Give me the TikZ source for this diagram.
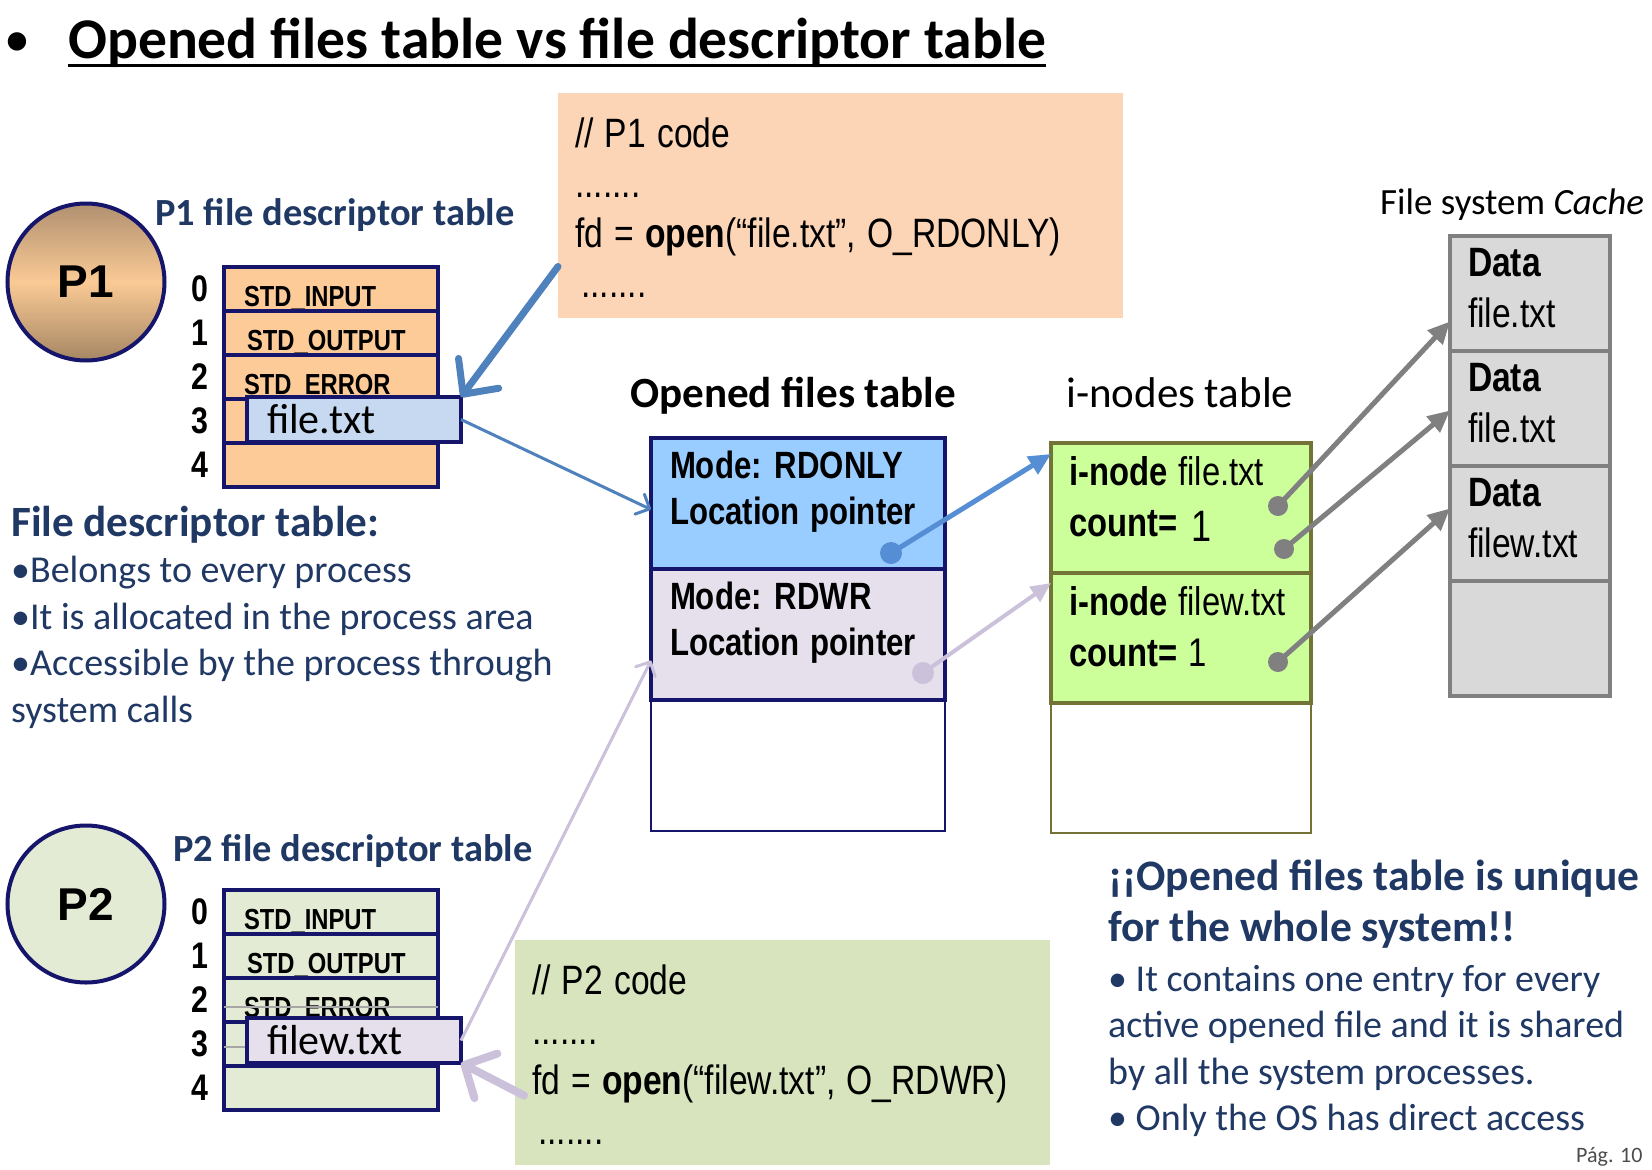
\documentclass[tikz,border=0pt]{standalone}
\usepackage{fontspec}
\setmainfont{Carlito}
\newfontfamily\narrowfont[FakeStretch=0.82, WordSpace=1.2]{Liberation Sans}
\newfontfamily\arialfont{Liberation Sans}
\usepackage{tikz}
\usetikzlibrary{positioning, arrows.meta}

\definecolor{navy}{HTML}{15156B}
\definecolor{descblue}{HTML}{203864}
\definecolor{p1fill}{HTML}{FCCB98}
\definecolor{p1top}{HTML}{B09070}
\definecolor{p1mid}{HTML}{FACA95}
\definecolor{p1bot}{HTML}{A58663}
\definecolor{p2fill}{HTML}{E3EBD4}
\definecolor{p1codefill}{HTML}{FBD5B5}
\definecolor{p2codefill}{HTML}{D7E4BD}
\definecolor{filebox}{HTML}{C6D9F1}
\definecolor{lavfill}{HTML}{E5E0EC}
\definecolor{rdonlyfill}{HTML}{99CCFF}
\definecolor{inodefill}{HTML}{CCFF99}
\definecolor{inodeline}{HTML}{737338}
\definecolor{cachefill}{HTML}{D9D9D9}
\definecolor{cacheline}{HTML}{808080}
\definecolor{arrblue}{HTML}{4F81BD}
\definecolor{arrblueb}{HTML}{558ED5}
\definecolor{arrlav}{HTML}{CCC1DA}

\newcommand{\stdfont}{\narrowfont\bfseries\fontsize{29}{30}\selectfont}
\newcommand{\modefont}{\narrowfont\bfseries\fontsize{38}{46}\selectfont}
\newcommand{\inodefont}{\narrowfont\fontsize{40}{51}\selectfont}
\newcommand{\codefont}{\narrowfont\fontsize{41}{50}\selectfont}
\newcommand{\descfont}{\fontsize{38}{46.5}\selectfont}

\tikzstyle{proc} = [circle, draw=navy, line width=4pt, minimum size=157pt, inner sep=0pt, font=\arialfont\bfseries\fontsize{46}{46}\selectfont]
\tikzstyle{fdtitle} = [anchor=base west, inner sep=0pt, text=descblue, font=\bfseries\fontsize{38.4}{42}\selectfont]
\tikzstyle{fdrow} = [rectangle, draw=navy, line width=4pt, minimum width=214pt, minimum height=44pt, inner sep=0pt, outer sep=0pt, text width=174pt, align=flush left, text height=39pt, text depth=5pt, font=\stdfont]
\tikzstyle{fdnum} = [inner sep=0pt, font=\narrowfont\bfseries\fontsize{37}{37}\selectfont]
\tikzstyle{fdfile} = [rectangle, draw=navy, line width=4pt, minimum width=214pt, minimum height=45pt, inner sep=0pt, outer sep=0pt, text width=174pt, align=flush left, text height=36pt, text depth=9pt, font=\fontsize{42}{44}\selectfont]
\tikzstyle{oftrow} = [rectangle, draw=navy, line width=4pt, minimum width=294pt, minimum height=131pt, inner sep=0pt, outer sep=0pt, text width=256pt, align=flush left, text height=40pt, text depth=91pt, font=\modefont]
\tikzstyle{inrow} = [rectangle, draw=inodeline, line width=4pt, minimum width=260pt, minimum height=130pt, inner sep=0pt, outer sep=0pt, text width=224pt, align=flush left, text height=42pt, text depth=88pt, font=\inodefont]
\tikzstyle{cacherow} = [rectangle, draw=cacheline, fill=cachefill, line width=4pt, minimum width=160pt, minimum height=115pt, inner sep=0pt, outer sep=0pt, text width=124pt, align=flush left, text height=40pt, text depth=75pt, font=\narrowfont\fontsize{41}{51}\selectfont]
\tikzstyle{codebox} = [rectangle, inner sep=0pt, outer sep=0pt, minimum height=225pt, align=flush left, text height=54pt, text depth=171pt, anchor=north west, font=\codefont]
\tikzstyle{heading} = [anchor=base west, inner sep=0pt, font=\fontsize{43}{46}\selectfont]
\tikzstyle{note} = [anchor=base west, inner sep=0pt, align=flush left, text=descblue, font=\descfont]
\tikzstyle{ptr} = [circle, inner sep=0pt, minimum size=22pt]
\tikzstyle{bigblue} = [draw=arrblue, line width=7pt, line cap=round, -{Straight Barb[length=26pt, width=50pt, round]}]
\tikzstyle{thinblue} = [draw=arrblue, line width=3pt, -{Straight Barb[length=11pt, width=22pt, round]}]
\tikzstyle{ptrblue} = [draw=arrblueb, line width=5pt, -{Triangle[length=22pt, width=20pt]}]
\tikzstyle{biglav} = [draw=arrlav, line width=8pt, line cap=round, -{Straight Barb[length=24pt, width=50pt, round]}]
\tikzstyle{thinlav} = [draw=arrlav, line width=3pt, -{Straight Barb[length=11pt, width=22pt, round]}]
\tikzstyle{ptrlav} = [draw=arrlav, line width=4pt, -{Triangle[length=20pt, width=18pt]}]
\tikzstyle{ptrgray} = [draw=cacheline, line width=5pt, -{Triangle[length=22pt, width=20pt]}]

\begin{document}
\begin{tikzpicture}[x=1pt, y=-1pt, node distance=0pt, label distance=15pt]
    \useasboundingbox[fill=white] (0,0) rectangle (1652,1170);

    % title
    \node[anchor=base west, inner sep=0pt, font=\fontsize{52}{56}\selectfont] (tbullet) at (4,56) {•};
    \node[anchor=base west, inner sep=0pt, font=\bfseries\fontsize{57.6}{62}\selectfont] (title) at (68,58) {Opened files table vs file descriptor table};
    \draw[line width=3pt] ([yshift=-7pt]title.base west) -- ([yshift=-7pt]title.base east);

    % process P1 and its descriptor table
    \node[proc, top color=p1top, bottom color=p1bot, middle color=p1mid] (p1) at (86,282) {P1};
    \node[fdtitle] (p1title) at (155,225) {P1 file descriptor table};
    \node[fdrow, fill=p1fill, anchor=north west, label={[fdnum, name=p1n0]left:0}] (p1r0) at (224,267) {STD\_INPUT};
    \node[fdrow, fill=p1fill, below=of p1r0, label={[fdnum, name=p1n1]left:1}] (p1r1) {\hspace*{3pt}STD\_OUTPUT};
    \node[fdrow, fill=p1fill, below=of p1r1, label={[fdnum, name=p1n2]left:2}] (p1r2) {STD\_ERROR};
    \node[fdrow, fill=p1fill, below=of p1r2, label={[fdnum, name=p1n3]left:3}] (p1r3) {};
    \node[fdrow, fill=p1fill, below=of p1r3, label={[fdnum, name=p1n4]left:4}] (p1r4) {};
    \node[fdfile, fill=filebox, anchor=north west] (p1f) at (247,397) {file.txt};

    % process P2 and its descriptor table
    \node[proc, fill=p2fill] (p2) at (86,904) {P2};
    \node[fdtitle] (p2title) at (173,861) {P2 file descriptor table};
    \node[fdrow, fill=p2fill, anchor=north west, label={[fdnum, name=p2n0]left:0}] (p2r0) at (224,890) {STD\_INPUT};
    \node[fdrow, fill=p2fill, below=of p2r0, label={[fdnum, name=p2n1]left:1}] (p2r1) {\hspace*{3pt}STD\_OUTPUT};
    \node[fdrow, fill=p2fill, below=of p2r1, label={[fdnum, name=p2n2]left:2}] (p2r2) {STD\_ERROR};
    \node[fdrow, fill=p2fill, below=of p2r2, label={[fdnum, name=p2n3]left:3}] (p2r3) {};
    \node[fdrow, fill=p2fill, below=of p2r3, label={[fdnum, name=p2n4]left:4}] (p2r4) {};
    \draw[gray!70, line width=1.5pt] ([yshift=-29pt]p2r2.north west) -- ([yshift=-29pt]p2r2.north east);
    \draw[gray!70, line width=1.5pt] ([yshift=-25pt]p2r3.north west) -- ++(23,0);
    \node[fdfile, fill=lavfill, anchor=north west] (p2f) at (247,1018) {filew.txt};

    % notes on the left
    \node[note, text width=560pt] (fdnote) at (11,536) {{\bfseries\fontsize{43.2}{46.5}\selectfont File descriptor table:}\\
        •Belongs to every process\\
        •It is allocated in the process area\\
        •Accessible by the process through\\
        system calls};

    % code boxes
    \node[codebox, fill=p1codefill, minimum width=565pt, text width=531pt] (p1code) at (558,93) {// P1 code\\.......\\fd = \textbf{open}(“file.txt”, O\_RDONLY)\\\hspace*{6pt}.......};
    \node[codebox, fill=p2codefill, minimum width=535pt, text width=501pt] (p2code) at (515,940) {// P2 code\\.......\\fd = \textbf{open}(“filew.txt”, O\_RDWR)\\\hspace*{6pt}.......};

    % opened files table
    \node[heading, font=\bfseries\fontsize{43.1}{46}\selectfont] (ofttitle) at (630,407) {Opened files table};
    \node[oftrow, fill=rdonlyfill, anchor=north west] (of1) at (651,438) {Mode: RDONLY\\Location pointer};
    \node[oftrow, fill=lavfill, below=of of1] (of2) {Mode: RDWR\\Location pointer};
    \node[oftrow, line width=2pt, below=of of2] (of3) {};

    % i-nodes table
    \node[heading] (intitle) at (1066,407) {i-nodes table};
    \node[inrow, fill=inodefill, anchor=north west] (in1) at (1051,443) {\textbf{i-node} file.txt\\\textbf{count=}\hspace{14pt}\raisebox{-5pt}{\fontsize{44}{44}\selectfont 1}};
    \node[inrow, fill=inodefill, below=of in1] (in2) {\textbf{i-node} filew.txt\\\textbf{count=} 1};
    \node[inrow, line width=2pt, minimum height=129pt, below=of in2] (in3) {};

    % file system cache
    \node[heading, font=\fontsize{37}{40}\selectfont] (ctitle) at (1380,214) {File system \textit{Cache}};
    \node[cacherow, anchor=north west] (c1) at (1450,236) {\textbf{Data}\\file.txt};
    \node[cacherow, below=of c1] (c2) {\textbf{Data}\\file.txt};
    \node[cacherow, below=of c2] (c3) {\textbf{Data}\\filew.txt};
    \node[cacherow, below=of c3] (c4) {};

    % pointers
    \node[ptr, fill=arrblueb] (dot1) at (891,553) {};
    \node[ptr, fill=arrlav] (dot2) at (923,673) {};
    \node[ptr, fill=cacheline, minimum size=20pt] (g1) at (1278,506) {};
    \node[ptr, fill=cacheline, minimum size=20pt] (g2) at (1284,549) {};
    \node[ptr, fill=cacheline, minimum size=20pt] (g3) at (1278,662) {};

    % note on the right
    \node[note, text width=545pt] (oftnote) at (1108,890) {{\bfseries\fontsize{43.5}{46.5}\selectfont ¡¡Opened files table is unique}\\[5pt]
        {\bfseries\fontsize{43.5}{46.5}\selectfont for the whole system!!}\\[3pt]
        • It contains one entry for every\\
        active opened file and it is shared\\
        by all the system processes.\\
        • Only the OS has direct access};
    \node[anchor=base west, inner sep=0pt, text=black!70, font=\fontsize{22}{24}\selectfont] (page) at (1576,1162) {Pág. 10};

    % connectors
    \draw[bigblue] ([yshift=-61pt]p1code.west) -- (p1f.north east);
    \draw[thinblue] (p1f.east) -- ([yshift=-6pt]of1.west);
    \draw[ptrblue] (dot1.center) -- ([yshift=-11pt]in1.north west);
    \draw[biglav] ([xshift=9pt,yshift=-43pt]p2code.west) -- (p2f.south east);
    \draw[thinlav] (p2f.east) -- ([yshift=-26pt]of2.west);
    \draw[ptrlav] (dot2.center) -- ([yshift=-10pt]in2.north west);
    \draw[ptrgray] (g1.center) -- ([yshift=-28pt]c1.west);
    \draw[ptrgray] (g2.center) -- ([yshift=-2pt]c2.west);
    \draw[ptrgray] (g3.center) -- ([yshift=15pt]c3.west);
\end{tikzpicture}
\end{document}
